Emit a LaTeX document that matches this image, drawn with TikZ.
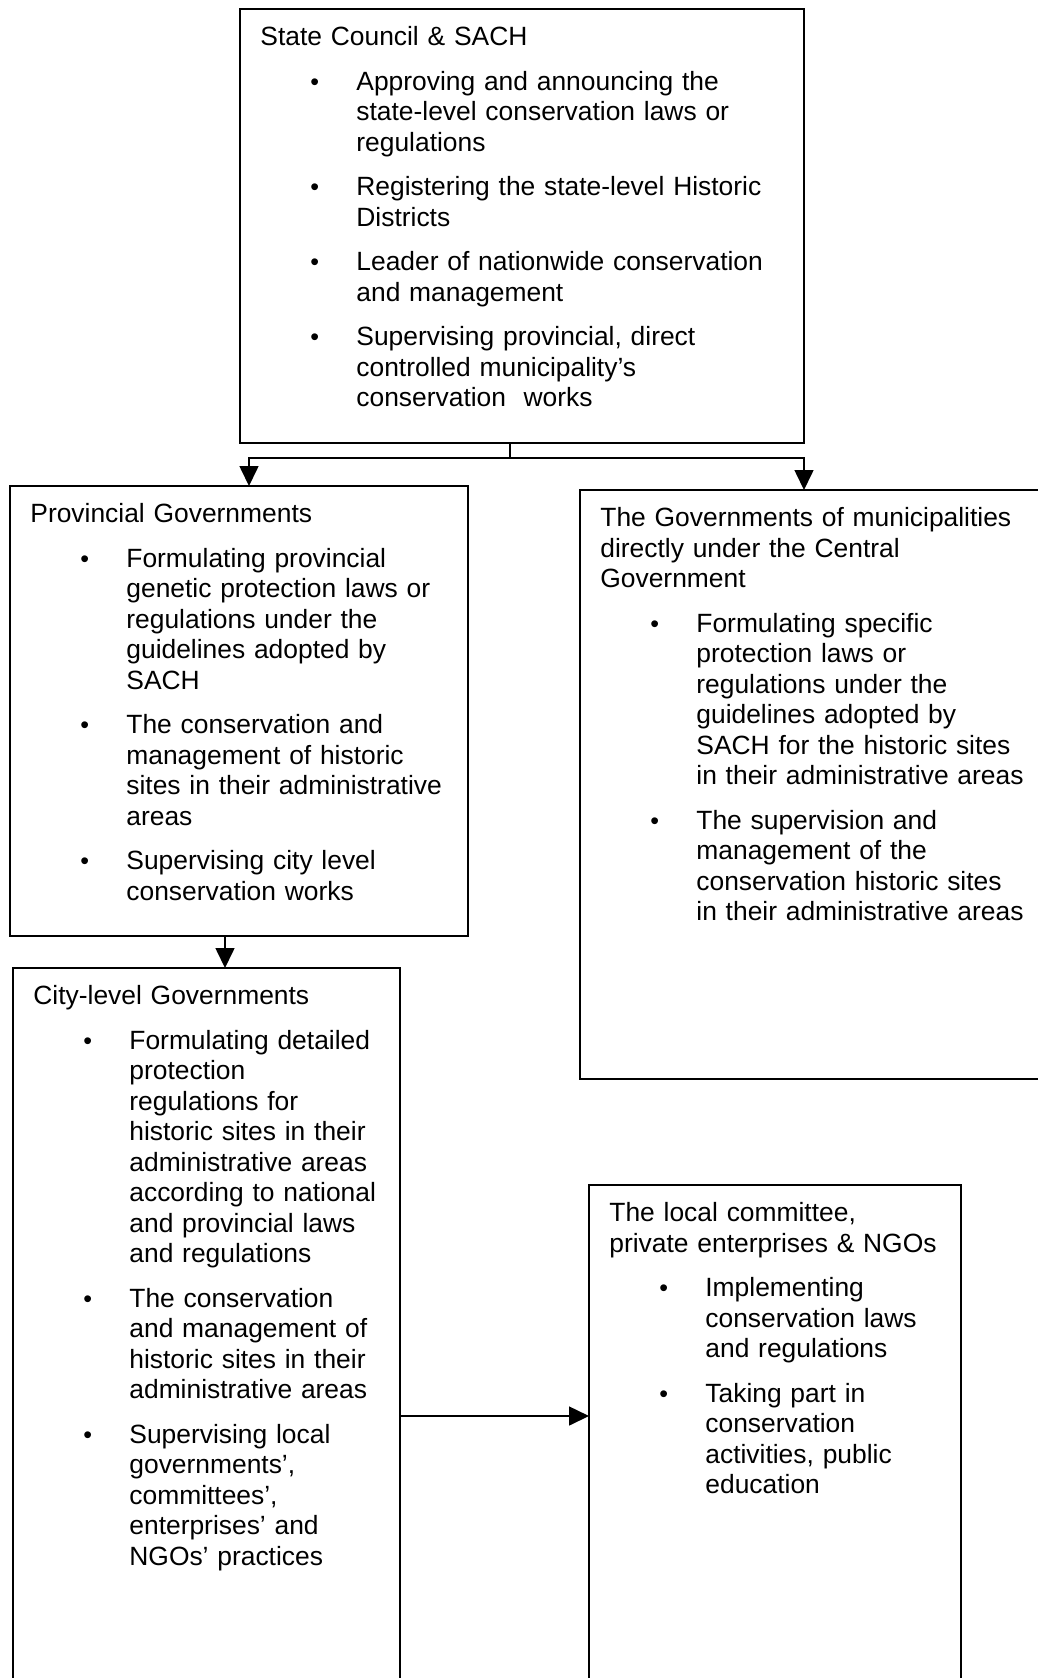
\documentclass[tikz,border=0pt]{standalone}
\usepackage{fontspec}
\setmainfont{Liberation Sans}
\usetikzlibrary{arrows.meta}
\newcommand{\orgitem}[1]{\par\vspace{7pt}{\leftskip=48pt\noindent\llap{\makebox[23pt][l]{{\fontsize{12.5}{12.5}\selectfont\textbullet}}}#1\par}}

\begin{document}
\begin{tikzpicture}[x=0.5pt, y=-0.5pt,
                    orgbox/.style={draw, line width=0.8pt, inner sep=0pt, outer sep=0pt, anchor=north west},
                    orgtext/.style={anchor=north west, inner sep=0pt, text width=300pt, align=left,
                                    font=\fontsize{13.2}{15.25}\selectfont},
                    orgarrow/.style={line width=0.8pt, -{Triangle[width=9.5pt,length=10pt]}}]
\useasboundingbox (0,0) rectangle (1038,1678);
\clip (0,0) rectangle (1038,1678);

\node[orgbox, minimum width=282pt, minimum height=217pt] (state) at (240,9) {};
\node[orgbox, minimum width=229pt, minimum height=225pt] (prov) at (10,486) {};
\node[orgbox, minimum width=240pt, minimum height=294.5pt] (muni) at (580,490) {};
\node[orgbox, minimum width=193.5pt, minimum height=366pt] (city) at (13,968) {};
\node[orgbox, minimum width=186pt, minimum height=257.5pt] (local) at (589,1185) {};

\node[orgtext] (state text) at ([shift={(20,15)}]state.north west) {\strut State Council \& SACH
    \orgitem{Approving and announcing the\\ state-level conservation laws or\\ regulations}
    \orgitem{Registering the state-level Historic\\ Districts}
    \orgitem{Leader of nationwide conservation\\ and management}
    \orgitem{Supervising provincial, direct\\ controlled municipality’s\\ conservation\ \ works}};
\node[orgtext] (prov text) at ([shift={(20,15)}]prov.north west) {\strut Provincial Governments
    \orgitem{Formulating provincial\\ genetic protection laws or\\ regulations under the\\ guidelines adopted by\\ SACH}
    \orgitem{The conservation and\\ management of historic\\ sites in their administrative\\ areas}
    \orgitem{Supervising city level\\ conservation works}};
\node[orgtext] (muni text) at ([shift={(20,15)}]muni.north west) {\strut The Governments of municipalities\\ directly under the Central\\ Government
    \orgitem{Formulating specific\\ protection laws or\\ regulations under the\\ guidelines adopted by\\ SACH for the historic sites\\ in their administrative areas}
    \orgitem{The supervision and\\ management of the\\ conservation historic sites\\ in their administrative areas}};
\node[orgtext] (city text) at ([shift={(20,15)}]city.north west) {\strut City-level Governments
    \orgitem{Formulating detailed\\ protection\\ regulations for\\ historic sites in their\\ administrative areas\\ according to national\\ and provincial laws\\ and regulations}
    \orgitem{The conservation\\ and management of\\ historic sites in their\\ administrative areas}
    \orgitem{Supervising local\\ governments’,\\ committees’,\\ enterprises’ and\\ NGOs’ practices}};
\node[orgtext] (local text) at ([shift={(20,15)}]local.north west) {\strut The local committee,\\ private enterprises \& NGOs
    \orgitem{Implementing\\ conservation laws\\ and regulations}
    \orgitem{Taking part in\\ conservation\\ activities, public\\ education}};

\coordinate (fork) at (510,458);
\draw[line width=0.8pt] (fork |- state.south) -- (fork);
\draw[orgarrow] (fork) -| ([shift={(10,0)}]prov.north);
\draw[orgarrow] (fork) -| (state.south east |- muni.north);
\draw[orgarrow] ([shift={(-14,0)}]prov.south) -- ([shift={(-14,0)}]prov.south |- city.north);
\draw[orgarrow] ([shift={(0,448)}]city.north east) -- ([shift={(0,448)}]city.north east -| local.west);
\end{tikzpicture}
\end{document}
